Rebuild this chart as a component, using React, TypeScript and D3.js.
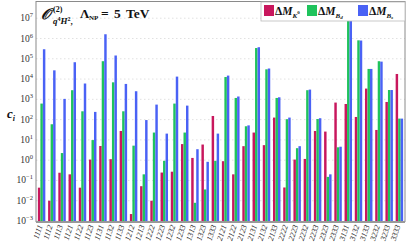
import React from "react";
import * as d3 from "d3";

const categories = ["1111","1112","1113","1121","1122","1123","1131","1132","1133","1212","1213","1222","1223","1232","1233","1313","1323","1333","2121","2122","2123","2131","2132","2133","2222","2223","2232","2233","2323","2333","3131","3132","3133","3232","3233","3333"];

const seriesK0 = [0.044,0.010,0.24,0.2,0.044,1.07,5.0,1.12,27.5,0.0022,0.052,0.010,0.245,0.27,6.2,1.29,5.9,151,0.89,0.2,4.9,23,5.5,126,0.045,1.07,1.15,27.5,25.7,692,589,135,3390,30.9,741,17800];
const seriesBd = [617,59,2.24,2820,257,9.8,75900,6900,257,5.2,0.2,23,0.93,617,23,0.0079,0.036,0.93,12600,1170,47,339000,30200,1170,105,3.9,2820,107,0.15,4.3,8.9e6,813000,31600,75900,2880,112];
const seriesBs = [295000,26900,1050,67600,6030,240,1.62e6,145000,5750,2510,95,550,20.4,13200,490,3.47,0.83,20.4,14800,1380,52,372000,33100,1260,126,4.9,3020,117,0.2,4.6,8.5e6,794000,31600,72400,2880,112];

const yTickExps = [-3,-2,-1,0,1,2,3,4,5,6,7];

const seriesKeys = ["K0","Bd","Bs"];
const colors: Record<string, string> = { K0: "#c8175d", Bd: "#1fc35c", Bs: "#4a62f5" };

const W = 407, H = 245;
const L = 36, R = 405, T = 2, B = 221;

export default function App() {
  const y = d3.scaleLog().domain([1e-3, Math.pow(10, 7.8)]).range([B, T]);
  const x0 = d3.scaleBand<string>().domain(categories).range([L + 0.5, R - 0.5]).paddingInner(0.26).paddingOuter(0.13);
  const x1 = d3.scaleBand<string>().domain(seriesKeys).range([0, x0.bandwidth()]).padding(0.02);
  const data: Record<string, number[]> = { K0: seriesK0, Bd: seriesBd, Bs: seriesBs };
  const serif = "'Liberation Serif', 'DejaVu Serif', serif";

  return (
    <div style={{ position: "absolute", left: 0, top: 0 }}>
      <svg width={W} height={H} style={{ display: "block", background: "#fff" }}>
        {yTickExps.map((e) => (
          <line key={"g" + e} x1={L} x2={R} y1={y(Math.pow(10, e))} y2={y(Math.pow(10, e))} stroke="#d9d9d9" strokeWidth={0.8} strokeDasharray="1.5,2.5" />
        ))}
        {categories.map((c, i) => (
          <g key={c} transform={`translate(${x0(c)},0)`}>
            {seriesKeys.map((k) => (
              <rect key={k} x={x1(k)} y={y(data[k][i])} width={x1.bandwidth()} height={B - y(data[k][i])} fill={colors[k]} />
            ))}
          </g>
        ))}
        <rect x={L} y={T - 0.5} width={R - L} height={B - T + 1} fill="none" stroke="#8a8a8a" strokeWidth={1} />
        <line x1={L} x2={R} y1={B + 1} y2={B + 1} stroke="#999" strokeWidth={2} />
        {yTickExps.map((e) => (
          <text key={"t" + e} x={33} y={y(Math.pow(10, e)) + 3} textAnchor="end" fontFamily={serif} fontSize={9.5} fill="#333">
            10<tspan dy={-4} fontSize={6.5}>{e < 0 ? "\u2212" + Math.abs(e) : e}</tspan>
          </text>
        ))}
        {categories.map((c) => {
          const cx = (x0(c) as number) + x0.bandwidth() / 2 + 1;
          return (
            <text key={"x" + c} transform={`translate(${cx},226) rotate(-72)`} textAnchor="end" fontFamily={serif} fontStyle="italic" fontSize={8} fill="#222">
              {c}
            </text>
          );
        })}
        <text x={7} y={118} fontFamily={serif} fontWeight="bold" fontStyle="italic" fontSize={13} fill="#111">
          c<tspan dy={3} fontSize={8}>i</tspan>
        </text>
        <g fontFamily={serif} fontWeight="bold" fill="#111">
          <text x={41} y={18.5} fontSize={15} fontStyle="italic">𝒪</text>
          <text x={53} y={12} fontSize={8}>(2)</text>
          <text x={53} y={24} fontSize={9} fontStyle="italic">
            q<tspan dy={-3} fontSize={6} fontStyle="normal">4</tspan><tspan dy={3}>H</tspan><tspan dy={-3} fontSize={6} fontStyle="normal">2</tspan><tspan dy={3} fontStyle="normal">,</tspan>
          </text>
          <text x={80} y={18} fontSize={13}>Λ</text>
          <text x={89} y={20} fontSize={7}>NP</text>
          <text x={101} y={18} fontSize={13.5} wordSpacing={2}>= 5 TeV</text>
        </g>
        <rect x={261} y={2} width={144} height={19} fill="#fff" stroke="#bbb" strokeWidth={0.8} />
        {seriesKeys.map((k, i) => {
          const lx = [264, 307, 358][i];
          const sub = ["K", "B", "B"][i];
          const sub2 = ["0", "d", "s"][i];
          return (
            <g key={"l" + k}>
              <rect x={lx} y={5} width={10} height={11} fill={colors[k]} />
              <text x={lx + 11} y={15} fontFamily={serif} fontWeight="bold" fontSize={11.5} fill="#111">
                Δ<tspan fontStyle="italic">M</tspan>
                <tspan dy={2.5} fontSize={7} fontStyle="italic">{sub}</tspan>
                {k === "K0" ? <tspan dy={-4} fontSize={5}>{sub2}</tspan> : <tspan dy={1.5} fontSize={5} fontStyle="italic">{sub2}</tspan>}
              </text>
            </g>
          );
        })}
      </svg>
    </div>
  );
}
